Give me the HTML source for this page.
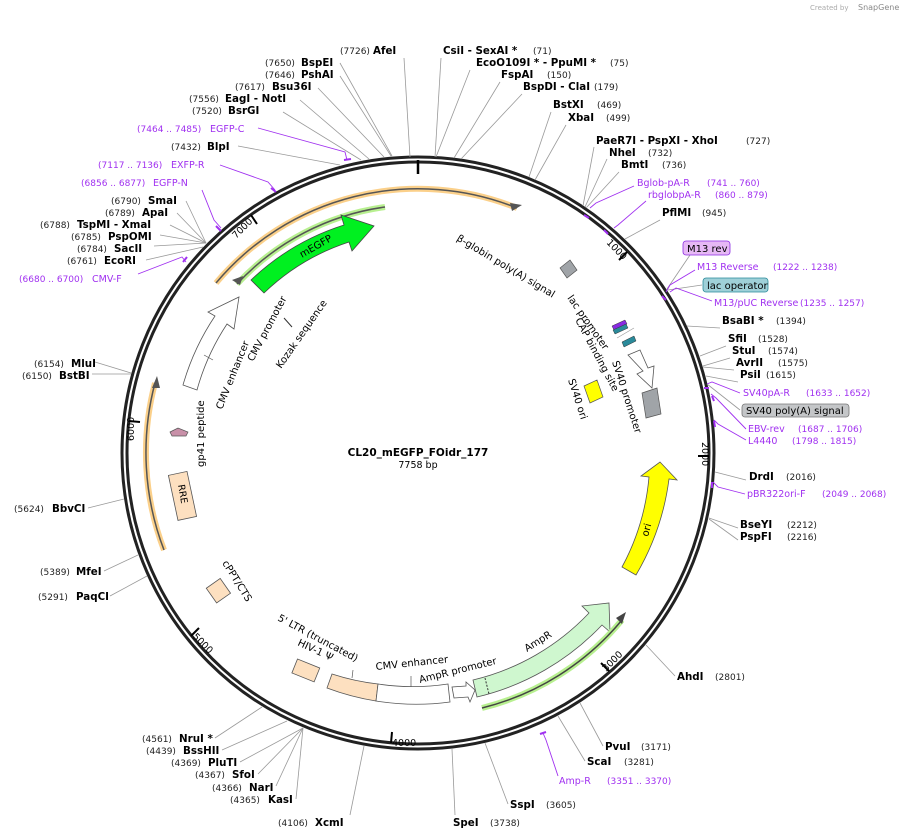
<!DOCTYPE html>
<html><head><meta charset="utf-8"><style>
html,body{margin:0;padding:0;background:#fff}
svg{display:block}
text{font-family:"DejaVu Sans","Liberation Sans",sans-serif}
.b{font-weight:bold;font-size:10.3px;fill:#000}
.n{font-size:9px;fill:#222}
.p{font-size:9.5px;fill:#a030f0}
.pn{font-size:9px;fill:#a030f0}
.f{font-size:10px;fill:#000}
.l{stroke:#999;stroke-width:0.8;fill:none}
.lp{stroke:#a030f0;stroke-width:0.9;fill:none}
</style></head><body>
<svg width="908" height="839" viewBox="0 0 908 839" xmlns="http://www.w3.org/2000/svg">
<text x="810" y="10" font-size="7" fill="#aaa">Created by</text><text x="858" y="10" font-size="8" fill="#888">SnapGene</text>

<circle cx="418" cy="453" r="296" fill="none" stroke="#222" stroke-width="3"/>
<circle cx="418" cy="453" r="291" fill="none" stroke="#222" stroke-width="3"/>
<line x1="418" y1="160" x2="418" y2="174" stroke="#000" stroke-width="2.5"/>
<g stroke="#000" stroke-width="2">
<line x1="627" y1="252" x2="619" y2="260"/>
<line x1="709" y1="456" x2="698" y2="456"/>
<line x1="609" y1="671" x2="601" y2="663"/>
<line x1="391" y1="743" x2="392" y2="732"/>
<line x1="191" y1="636" x2="199" y2="628"/>
<line x1="129" y1="421" x2="140" y2="422"/>
<line x1="251" y1="215" x2="257" y2="224"/>
</g>
<text x="606" y="243" font-size="9.5" transform="rotate(46 606 243)">1000</text>
<text x="702" y="442" font-size="9.5" transform="rotate(90 702 442)">2000</text>
<text x="606" y="672" font-size="9.5" transform="rotate(-45 606 672)">3000</text>
<text x="392" y="746" font-size="9.5">4000</text>
<text x="192" y="637" font-size="9.5" transform="rotate(45 192 637)">5000</text>
<text x="134" y="441" font-size="9.5" transform="rotate(-90 134 441)">6000</text>
<text x="236" y="239" font-size="9.5" transform="rotate(-45 236 239)">7000</text>

<path d="M216,283 A264 264 0 0 1 517,208" fill="none" stroke="#fbd08a" stroke-width="6"/>
<path d="M216,283 A264 264 0 0 1 517,208" fill="none" stroke="#555" stroke-width="1.5"/>
<polygon points="522,205 510,203 512,211" fill="#555"/>
<path d="M237,284 A248 248 0 0 1 385,207" fill="none" stroke="#b8f090" stroke-width="6"/>
<path d="M237,284 A248 248 0 0 1 385,207" fill="none" stroke="#555" stroke-width="1.5"/>
<polygon points="232,280 243,276 240,285" fill="#555"/>
<path d="M251,280 A240 240 0 0 1 344,225 L341,215 L374,226 L352,251 L349,242 A222 222 0 0 0 264,293 Z" fill="#00f020" stroke="#444" stroke-width="0.8"/>
<path d="M183,385 A245 245 0 0 1 215,316 L208,312 L239,297 L234,329 L227,324 A230 230 0 0 0 197,390 Z" fill="#fff" stroke="#555" stroke-width="0.8"/>
<line x1="204" y1="355" x2="213" y2="360" stroke="#555" stroke-width="0.7"/>
<line x1="284" y1="318" x2="292" y2="327" stroke="#333" stroke-width="1"/>
<path d="M164,550 A272 272 0 0 1 155,383" fill="none" stroke="#fbd08a" stroke-width="6"/>
<path d="M164,550 A272 272 0 0 1 155,383" fill="none" stroke="#555" stroke-width="1.5"/>
<polygon points="157,376 152,388 160,388" fill="#555"/>
<polygon points="170,432 178,428 188,432 186,436 172,436" fill="#c890a8" stroke="#555" stroke-width="0.7"/>
<g transform="rotate(-12 182 496)"><rect x="173" y="473" width="19" height="46" fill="#fde0c0" stroke="#555" stroke-width="0.8"/></g>
<text x="178" y="485" font-size="9.5" transform="rotate(80 178 485)">RRE</text>
<g transform="rotate(-35 218 591)"><rect x="210" y="582" width="17" height="18" fill="#fde0c0" stroke="#555" stroke-width="0.8"/></g>
<g transform="rotate(22 306 670)"><rect x="294" y="663" width="24" height="15" fill="#fde0c0" stroke="#555" stroke-width="0.8"/></g>
<path d="M327,688 A252 252 0 0 0 376,701 L378,684 A234 234 0 0 1 332,674 Z" fill="#fde0c0" stroke="#555" stroke-width="0.8"/>
<path d="M376,701 A252 252 0 0 0 450,702 L448,684 A234 234 0 0 1 378,684 Z" fill="#fff" stroke="#555" stroke-width="0.8"/>
<line x1="353" y1="670" x2="352" y2="678" stroke="#555" stroke-width="0.7"/>
<line x1="411" y1="676" x2="411" y2="687" stroke="#555" stroke-width="0.7"/>
<polygon points="454,698 468,697 470,702 475,690 466,682 466,686 452,687" fill="#fff" stroke="#555" stroke-width="0.8"/>
<path d="M477,697 A252 252 0 0 0 602,625 L610,632 L609,603 L582,606 L589,613 A234 234 0 0 1 473,680 Z" fill="#cff7cf" stroke="#555" stroke-width="0.8"/>
<line x1="485" y1="678" x2="489" y2="694" stroke="#333" stroke-width="1" stroke-dasharray="2,1.5"/>
<path d="M482,708 A265 265 0 0 0 622,620" fill="none" stroke="#b8f090" stroke-width="6"/>
<path d="M482,708 A265 265 0 0 0 622,620" fill="none" stroke="#444" stroke-width="1.5"/>
<polygon points="626,612 616,618 622,624" fill="#444"/>
<path d="M636,575 A252 252 0 0 0 669,479 L677,480 L660,462 L641,476 L649,477 A232 232 0 0 1 622,567 Z" fill="#ffff00" stroke="#555" stroke-width="0.8"/>
<polygon points="628,355 640,350 648,368 654,366 652,388 637,374 643,371" fill="#fff" stroke="#555" stroke-width="0.8"/>
<polygon points="642,393 657,388 661,414 646,418" fill="#a0a4a8" stroke="#555" stroke-width="0.7"/>
<polygon points="560,268 570,260 577,270 567,278" fill="#a0a4a8" stroke="#555" stroke-width="0.7"/>
<polygon points="612,326 625,320 627,324 614,330" fill="#8a2be2" stroke="#333" stroke-width="0.5"/>
<polygon points="613,330 626,324 628,328 615,334" fill="#2a8a9a" stroke="#333" stroke-width="0.5"/>
<polygon points="622,342 634,336 636,341 624,347" fill="#2a8a9a" stroke="#333" stroke-width="0.5"/>
<line x1="617" y1="338" x2="634" y2="328" stroke="#999" stroke-width="0.6"/>
<polygon points="584,386 597,380 603,397 590,403" fill="#ffff00" stroke="#555" stroke-width="0.7"/>

<text x="418" y="456" text-anchor="middle" font-size="10.5" font-weight="bold">CL20_mEGFP_FOidr_177</text>
<text x="418" y="468" text-anchor="middle" font-size="9.5">7758 bp</text>
<text class="f" x="302" y="258" transform="rotate(-30 302 258)">mEGFP</text>
<text class="f" x="281" y="369" transform="rotate(-55 281 369)">Kozak sequence</text>
<text class="f" x="253" y="362" transform="rotate(-62 253 362)">CMV promoter</text>
<text class="f" x="222" y="410" transform="rotate(-68 222 410)">CMV enhancer</text>
<text class="f" x="204" y="467" transform="rotate(-90 204 467)">gp41 peptide</text>
<text class="f" x="222" y="563" transform="rotate(58 222 563)">cPPT/CTS</text>
<text class="f" x="277" y="620" transform="rotate(28 277 620)">5' LTR (truncated)</text>
<text class="f" x="297" y="645" transform="rotate(25 297 645)">HIV-1 Ψ</text>
<text class="f" x="376" y="670" transform="rotate(-6 376 670)">CMV enhancer</text>
<text class="f" x="420" y="683" transform="rotate(-14 420 683)">AmpR promoter</text>
<text class="f" x="527" y="652" transform="rotate(-32 527 652)">AmpR</text>
<text class="f" x="648" y="537" transform="rotate(-75 648 537)">ori</text>
<text class="f" x="456" y="240" transform="rotate(31 456 240)">β-globin poly(A) signal</text>
<text class="f" x="567" y="298" transform="rotate(55 567 298)">lac promoter</text>
<text class="f" x="575" y="320" transform="rotate(62 575 320)">CAP binding site</text>
<text class="f" x="612" y="362" transform="rotate(72 612 362)">SV40 promoter</text>
<text class="f" x="568" y="380" transform="rotate(72 568 380)">SV40 ori</text>

<g class="l">
<line x1="410" y1="157" x2="404" y2="58"/>
<line x1="435" y1="157" x2="441" y2="58"/>
<line x1="436" y1="157" x2="470" y2="70"/>
<line x1="454" y1="158" x2="500" y2="82"/>
<line x1="461" y1="159" x2="522" y2="94"/>
<line x1="529" y1="177" x2="551" y2="112"/>
<line x1="535" y1="180" x2="566" y2="125"/>
<line x1="583" y1="206" x2="594" y2="147"/>
<line x1="585" y1="207" x2="607" y2="159"/>
<line x1="586" y1="208" x2="619" y2="172"/>
<line x1="625" y1="239" x2="660" y2="220"/>
<line x1="687" y1="326" x2="720" y2="328"/>
<line x1="700" y1="356" x2="726" y2="346"/>
<line x1="703" y1="366" x2="730" y2="358"/>
<line x1="703" y1="367" x2="734" y2="370"/>
<line x1="706" y1="376" x2="738" y2="382"/>
<line x1="715" y1="472" x2="746" y2="480"/>
<line x1="709" y1="518" x2="738" y2="528"/>
<line x1="709" y1="519" x2="738" y2="540"/>
<line x1="646" y1="645" x2="675" y2="676"/>
<line x1="580" y1="703" x2="603" y2="746"/>
<line x1="558" y1="716" x2="585" y2="761"/>
<line x1="485" y1="743" x2="508" y2="804"/>
<line x1="452" y1="749" x2="455" y2="815"/>
<line x1="364" y1="746" x2="350" y2="815"/>
<line x1="262" y1="707" x2="215" y2="738"/>
<line x1="287" y1="721" x2="222" y2="750"/>
<line x1="303" y1="728" x2="240" y2="762"/>
<line x1="303" y1="728" x2="258" y2="774"/>
<line x1="303" y1="728" x2="276" y2="786"/>
<line x1="303" y1="728" x2="296" y2="799"/>
<line x1="147" y1="576" x2="110" y2="596"/>
<line x1="138" y1="555" x2="104" y2="571"/>
<line x1="124" y1="499" x2="88" y2="508"/>
<line x1="131" y1="373" x2="95" y2="362"/>
<line x1="131" y1="374" x2="92" y2="374"/>
<line x1="203" y1="247" x2="146" y2="260"/>
<line x1="206" y1="243" x2="154" y2="246"/>
<line x1="206" y1="243" x2="160" y2="235"/>
<line x1="206" y1="243" x2="170" y2="225"/>
<line x1="206" y1="243" x2="177" y2="213"/>
<line x1="206" y1="243" x2="186" y2="201"/>
<line x1="340" y1="165" x2="238" y2="146"/>
<line x1="361" y1="160" x2="283" y2="112"/>
<line x1="369" y1="159" x2="300" y2="100"/>
<line x1="384" y1="157" x2="318" y2="88"/>
<line x1="391" y1="156" x2="340" y2="76"/>
<line x1="392" y1="156" x2="340" y2="63"/>
<line x1="667" y1="289" x2="690" y2="255"/>
<line x1="668" y1="290" x2="702" y2="285"/>
<line x1="707" y1="384" x2="740" y2="410"/>
</g>
<g class="lp">
<polyline points="347,160 345,152 258,128"/>
<polyline points="275,190 268,182 220,165"/>
<polyline points="221,228 214,220 202,190"/>
<polyline points="186,262 182,257 138,274"/>
<polyline points="590,208 596,203 634,186"/>
<polyline points="614,228 618,225 646,201"/>
<polyline points="666,292 670,285 695,270"/>
<polyline points="670,292 676,288 712,301"/>
<polyline points="707,384 712,382 740,393"/>
<polyline points="711,394 716,398 746,429"/>
<polyline points="714,420 718,424 746,440"/>
<polyline points="713,482 718,487 745,494"/>
<polyline points="543,733 546,740 558,776"/>
</g>
<g stroke="#a030f0" stroke-width="2">
<line x1="344" y1="160" x2="351" y2="159"/><line x1="271" y1="188" x2="276" y2="192"/>
<line x1="216" y1="226" x2="221" y2="231"/><line x1="183" y1="262" x2="187" y2="257"/>
<line x1="584" y1="215" x2="589" y2="218"/><line x1="604" y1="230" x2="608" y2="234"/>
<line x1="662" y1="296" x2="666" y2="300"/><line x1="704" y1="388" x2="709" y2="388"/>
<line x1="712" y1="396" x2="714" y2="401"/><line x1="714" y1="421" x2="715" y2="427"/>
<line x1="712" y1="482" x2="712" y2="488"/><line x1="540" y1="734" x2="546" y2="732"/>
</g>

<text class="n" x="340" y="54">(7726)</text><text class="b" x="373" y="54">AfeI</text>
<text class="b" x="443" y="54">CsiI  - SexAI *</text><text class="n" x="533" y="54">(71)</text>
<text class="b" x="476" y="66">EcoO109I *  - PpuMI *</text><text class="n" x="610" y="66">(75)</text>
<text class="b" x="501" y="78">FspAI</text><text class="n" x="547" y="78">(150)</text>
<text class="b" x="523" y="90">BspDI  - ClaI</text><text class="n" x="594" y="90">(179)</text>
<text class="b" x="553" y="108">BstXI</text><text class="n" x="597" y="108">(469)</text>
<text class="b" x="568" y="121">XbaI</text><text class="n" x="606" y="121">(499)</text>
<text class="b" x="596" y="144">PaeR7I  - PspXI  - XhoI</text><text class="n" x="746" y="144">(727)</text>
<text class="b" x="609" y="156">NheI</text><text class="n" x="648" y="156">(732)</text>
<text class="b" x="621" y="168">BmtI</text><text class="n" x="662" y="168">(736)</text>
<text class="p" x="637" y="186">Bglob-pA-R</text><text class="pn" x="707" y="186">(741 .. 760)</text>
<text class="p" x="648" y="198">rbglobpA-R</text><text class="pn" x="715" y="198">(860 .. 879)</text>
<text class="b" x="662" y="216">PflMI</text><text class="n" x="702" y="216">(945)</text>
<rect x="683" y="241" width="47" height="14" rx="3" fill="#e6b8f5" stroke="#8a2be2" stroke-width="0.8"/><text x="687" y="252" font-size="10">M13 rev</text>
<text class="p" x="697" y="270">M13 Reverse</text><text class="pn" x="773" y="270">(1222 .. 1238)</text>
<rect x="703" y="278" width="65" height="14" rx="3" fill="#9fd0d8" stroke="#2a8a9a" stroke-width="0.8"/><text x="707" y="289" font-size="10">lac operator</text>
<text class="p" x="714" y="306">M13/pUC Reverse</text><text class="pn" x="800" y="306">(1235 .. 1257)</text>
<text class="b" x="722" y="324">BsaBI *</text><text class="n" x="776" y="324">(1394)</text>
<text class="b" x="728" y="342">SfiI</text><text class="n" x="758" y="342">(1528)</text>
<text class="b" x="732" y="354">StuI</text><text class="n" x="768" y="354">(1574)</text>
<text class="b" x="736" y="366">AvrII</text><text class="n" x="778" y="366">(1575)</text>
<text class="b" x="740" y="378">PsiI</text><text class="n" x="766" y="378">(1615)</text>
<text class="p" x="743" y="396">SV40pA-R</text><text class="pn" x="806" y="396">(1633 .. 1652)</text>
<rect x="742" y="404" width="107" height="13" rx="3" fill="#c4c6c8" stroke="#777" stroke-width="0.8"/><text x="746" y="414" font-size="10">SV40 poly(A) signal</text>
<text class="p" x="748" y="432">EBV-rev</text><text class="pn" x="798" y="432">(1687 .. 1706)</text>
<text class="p" x="748" y="444">L4440</text><text class="pn" x="792" y="444">(1798 .. 1815)</text>
<text class="b" x="749" y="480">DrdI</text><text class="n" x="786" y="480">(2016)</text>
<text class="p" x="747" y="497">pBR322ori-F</text><text class="pn" x="822" y="497">(2049 .. 2068)</text>
<text class="b" x="740" y="528">BseYI</text><text class="n" x="787" y="528">(2212)</text>
<text class="b" x="740" y="540">PspFI</text><text class="n" x="787" y="540">(2216)</text>
<text class="b" x="677" y="680">AhdI</text><text class="n" x="715" y="680">(2801)</text>
<text class="b" x="605" y="750">PvuI</text><text class="n" x="641" y="750">(3171)</text>
<text class="b" x="587" y="765">ScaI</text><text class="n" x="624" y="765">(3281)</text>
<text class="p" x="559" y="784">Amp-R</text><text class="pn" x="607" y="784">(3351 .. 3370)</text>
<text class="b" x="510" y="808">SspI</text><text class="n" x="546" y="808">(3605)</text>
<text class="b" x="453" y="826">SpeI</text><text class="n" x="490" y="826">(3738)</text>
<text class="n" x="278" y="826">(4106)</text><text class="b" x="315" y="826">XcmI</text>
<text class="n" x="142" y="742">(4561)</text><text class="b" x="179" y="742">NruI *</text>
<text class="n" x="146" y="754">(4439)</text><text class="b" x="183" y="754">BssHII</text>
<text class="n" x="171" y="766">(4369)</text><text class="b" x="208" y="766">PluTI</text>
<text class="n" x="195" y="778">(4367)</text><text class="b" x="232" y="778">SfoI</text>
<text class="n" x="212" y="791">(4366)</text><text class="b" x="249" y="791">NarI</text>
<text class="n" x="230" y="803">(4365)</text><text class="b" x="268" y="803">KasI</text>
<text class="n" x="38" y="600">(5291)</text><text class="b" x="76" y="600">PaqCI</text>
<text class="n" x="40" y="575">(5389)</text><text class="b" x="76" y="575">MfeI</text>
<text class="n" x="14" y="512">(5624)</text><text class="b" x="52" y="512">BbvCI</text>
<text class="n" x="34" y="367">(6154)</text><text class="b" x="71" y="367">MluI</text>
<text class="n" x="22" y="379">(6150)</text><text class="b" x="59" y="379">BstBI</text>
<text class="pn" x="19" y="282">(6680 .. 6700)</text><text class="p" x="92" y="282">CMV-F</text>
<text class="n" x="67" y="264">(6761)</text><text class="b" x="104" y="264">EcoRI</text>
<text class="n" x="77" y="252">(6784)</text><text class="b" x="114" y="252">SacII</text>
<text class="n" x="71" y="240">(6785)</text><text class="b" x="108" y="240">PspOMI</text>
<text class="n" x="40" y="228">(6788)</text><text class="b" x="77" y="228">TspMI   - XmaI</text>
<text class="n" x="105" y="216">(6789)</text><text class="b" x="142" y="216">ApaI</text>
<text class="n" x="111" y="204">(6790)</text><text class="b" x="148" y="204">SmaI</text>
<text class="pn" x="81" y="186">(6856 .. 6877)</text><text class="p" x="153" y="186">EGFP-N</text>
<text class="pn" x="98" y="168">(7117 .. 7136)</text><text class="p" x="171" y="168">EXFP-R</text>
<text class="n" x="171" y="150">(7432)</text><text class="b" x="207" y="150">BlpI</text>
<text class="pn" x="137" y="132">(7464 .. 7485)</text><text class="p" x="210" y="132">EGFP-C</text>
<text class="n" x="192" y="114">(7520)</text><text class="b" x="228" y="114">BsrGI</text>
<text class="n" x="189" y="102">(7556)</text><text class="b" x="225" y="102">EagI   - NotI</text>
<text class="n" x="235" y="90">(7617)</text><text class="b" x="272" y="90">Bsu36I</text>
<text class="n" x="265" y="78">(7646)</text><text class="b" x="301" y="78">PshAI</text>
<text class="n" x="265" y="66">(7650)</text><text class="b" x="301" y="66">BspEI</text>
</svg>
</body></html>
